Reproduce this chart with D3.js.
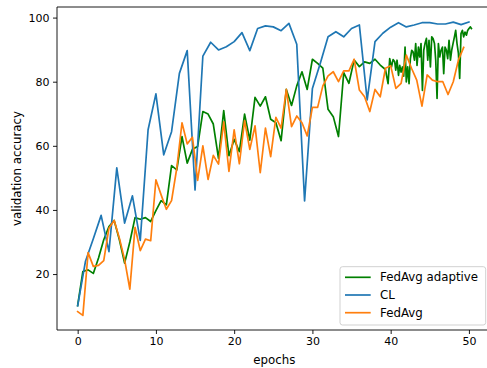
<!DOCTYPE html>
<html>
<head>
<meta charset="utf-8">
<script src="https://cdn.jsdelivr.net/npm/d3@7"></script>
<style>
    body { margin: 0; background: #fff; }
    svg { display: block; font-family: "DejaVu Sans", sans-serif; }
</style>
</head>
<body>
<div id="chart"></div>
<script>
// tick labels
const xTicks = [0, 10, 20, 30, 40, 50];
const yTicks = [20, 40, 60, 80, 100];

// CL: one value per epoch 0..50
const clAcc = [10.1, 24, 31, 38.3, 27, 53.1, 35.9, 44.4, 30.5, 65,
    76.2, 57.2, 64.4, 82.6, 89.7, 46.2, 88, 92.3, 89.9, 90.9,
    92.5, 95.3, 89.7, 96.6, 97.4, 97.1, 95.9, 98.2, 91.7, 42.8,
    77.9, 85.7, 94, 95.6, 94, 96.6, 97.7, 74.3, 92.5, 95.1,
    97, 98.4, 97.1, 97.7, 98.4, 98.4, 98, 98, 98.6, 97.8, 98.6];

// FedAvg: one value per round, rounds are 2/3 of an epoch apart
const roundStep = 2 / 3;
const fedAvgAcc = [8.3, 7.1, 26.7, 22.4, 22.7, 24.2, 34.3, 36.7, 31.2, 24.5,
    15.3, 34.6, 27.3, 30.9, 30.4, 49.4, 44.7, 40.2, 42.9, 53,
    67.2, 60.6, 62.7, 49.2, 60, 49.5, 57, 54.3, 67.5, 52,
    65, 54.4, 67.9, 58.9, 66.2, 51.6, 65.5, 56.6, 68.9, 65.5,
    77.6, 66, 69.3, 67.2, 63.1, 72, 72, 78.7, 81.8, 83.1,
    80, 83.4, 83.4, 87, 77.4, 75.3, 70.7, 77.6, 75.3, 84.2,
    85, 77.9, 79.5, 88.3, 84.2, 80.5, 72.4, 82.1, 80.5, 80,
    80, 76, 80, 86.8, 90.7];

// FedAvg adaptive: same rounds up to epoch ~39, then many short rounds
const adaptiveRoundAcc = [10.2, 20.8, 21.3, 20.2, 25, 30.7, 34.8, 36.7, 30.7, 23.4,
    30, 37.6, 37.1, 37.6, 36.4, 39.8, 42.9, 41.6, 53.8, 52.5,
    62.9, 54.6, 58.9, 59.8, 70.7, 69.9, 66.8, 56.1, 71, 56.9,
    62, 58.2, 69.9, 61.8, 75.1, 72.4, 75.3, 68.3, 67.2, 61.6,
    77.6, 72.6, 78.7, 83.1, 77.6, 87, 85.7, 84.2, 71.4, 69.1,
    62.9, 82.8, 79.5, 86.8, 84.7, 86.2, 85.7, 87, 85.2, 83.8];
const adaptiveTailEpochs = [39.67, 39.88, 40.1, 40.31, 40.52, 40.65, 40.82, 41, 41.16, 41.33,
    41.5, 41.67, 41.84, 42, 42.18, 42.35, 42.52, 42.69, 42.86, 43.04,
    43.2, 43.37, 43.55, 43.72, 43.88, 44.06, 44.23, 44.39, 44.57, 44.74,
    44.9, 45.08, 45.25, 45.42, 45.6, 45.76, 45.93, 46.1, 46.27, 46.44,
    46.62, 46.78, 46.95, 47.13, 47.29, 47.46, 47.64, 47.8, 47.97, 48.15,
    48.31, 48.48, 48.66, 48.82, 48.99, 49.17, 49.33, 49.5, 49.68, 49.84,
    50.01, 50.19, 50.32];
const adaptiveTailAcc = [79.4, 87.2, 84.6, 86.9, 86.2, 83.6, 86.7, 82, 85.1, 83,
    84.6, 81.7, 90.8, 79.9, 84.6, 79.4, 87.2, 89.8, 89.3, 86.7,
    91.9, 85.1, 90.8, 87.7, 91.9, 77.3, 89.8, 91.9, 93.5, 86.7,
    92.9, 84.6, 94, 93.5, 91.9, 86.7, 74.8, 91.9, 87.7, 89.8,
    90.8, 82.5, 90.8, 89.8, 87.2, 92.9, 86.7, 89.8, 91.9, 94,
    96, 91.9, 88.8, 81, 95, 96, 94, 95.5, 94.5, 96,
    96.6, 97.1, 96.6];

const seriesNames = ['FedAvg adaptive', 'CL', 'FedAvg'];
const seriesColors = ['#008000', '#1f77b4', '#ff7f0e'];

let width = 487,
    height = 368,
    plot = { left: 57, top: 7, bottom: 330, right: 491.6 },
    svg,
    x,
    y,
    line,
    series;

series = [
    adaptiveRoundAcc.map((v, i) => [i * roundStep, v])
        .concat(adaptiveTailEpochs.map((e, i) => [e, adaptiveTailAcc[i]])),
    clAcc.map((v, i) => [i, v]),
    fedAvgAcc.map((v, i) => [i * roundStep, v])
];

x = d3.scaleLinear()
    .domain([-2.64, 52.9])
    .range([plot.left, plot.right]);

y = d3.scaleLinear()
    .domain([2.55, 103.3])
    .range([plot.bottom, plot.top]);

svg = d3.select('#chart')
    .append('svg')
    .attr('width', width)
    .attr('height', height);

svg.append('rect')
    .attr('width', width)
    .attr('height', height)
    .attr('fill', '#fff');

svg.append('clipPath')
    .attr('id', 'clip')
    .append('rect')
    .attr('x', plot.left)
    .attr('y', plot.top)
    .attr('width', plot.right - plot.left)
    .attr('height', plot.bottom - plot.top);

line = d3.line()
    .x(d => x(d[0]))
    .y(d => y(d[1]));

svg.append('g')
    .attr('clip-path', 'url(#clip)')
    .selectAll('path')
    .data(series)
    .enter()
    .append('path')
    .attr('d', line)
    .attr('fill', 'none')
    .attr('stroke', (d, i) => seriesColors[i])
    .attr('stroke-width', 1.7)
    .attr('stroke-linejoin', 'round')
    .attr('stroke-linecap', 'square');

// axes
let xAxis = svg.append('g')
    .attr('transform', `translate(0, ${plot.bottom})`)
    .call(d3.axisBottom(x).tickValues(xTicks).tickSize(4).tickPadding(3.5).tickFormat(d3.format('d')));

let yAxis = svg.append('g')
    .attr('transform', `translate(${plot.left}, 0)`)
    .call(d3.axisLeft(y).tickValues(yTicks).tickSize(4).tickPadding(3.5).tickFormat(d3.format('d')));

[xAxis, yAxis].forEach(a => {
    a.select('.domain').remove();
    a.selectAll('line').attr('stroke', '#000').attr('stroke-width', 0.9);
    a.selectAll('text')
        .attr('fill', '#000')
        .style('font-size', '11px')
        .style('font-family', '"DejaVu Sans", sans-serif');
});

// spines
svg.append('path')
    .attr('d', `M${plot.left},${plot.bottom}V${plot.top}H${plot.right}V${plot.bottom}Z`)
    .attr('fill', 'none')
    .attr('stroke', '#000')
    .attr('stroke-width', 0.9);

svg.append('text')
    .attr('x', (plot.left + plot.right) / 2)
    .attr('y', 364)
    .attr('text-anchor', 'middle')
    .style('font-size', '11.8px')
    .text('epochs');

svg.append('text')
    .attr('transform', `translate(21, ${(plot.top + plot.bottom) / 2}) rotate(-90)`)
    .attr('text-anchor', 'middle')
    .style('font-size', '11.8px')
    .text('validation accuracy');

// legend
let legend = svg.append('g')
    .attr('transform', 'translate(340, 266.7)');

legend.append('rect')
    .attr('width', 145.7)
    .attr('height', 58.3)
    .attr('rx', 2.5)
    .attr('fill', '#fff')
    .attr('fill-opacity', 0.8)
    .attr('stroke', '#cccccc')
    .attr('stroke-width', 0.9);

let rows = legend.selectAll('.legend-row')
    .data(seriesNames)
    .enter()
    .append('g')
    .attr('class', 'legend-row')
    .attr('transform', (d, i) => `translate(0, ${10.6 + i * 17.7})`);

rows.append('line')
    .attr('x1', 5)
    .attr('x2', 30.7)
    .attr('stroke', (d, i) => seriesColors[i])
    .attr('stroke-width', 1.7);

rows.append('text')
    .attr('x', 40)
    .attr('dy', '0.35em')
    .style('font-size', '11.8px')
    .text(d => d);
</script>
</body>
</html>
